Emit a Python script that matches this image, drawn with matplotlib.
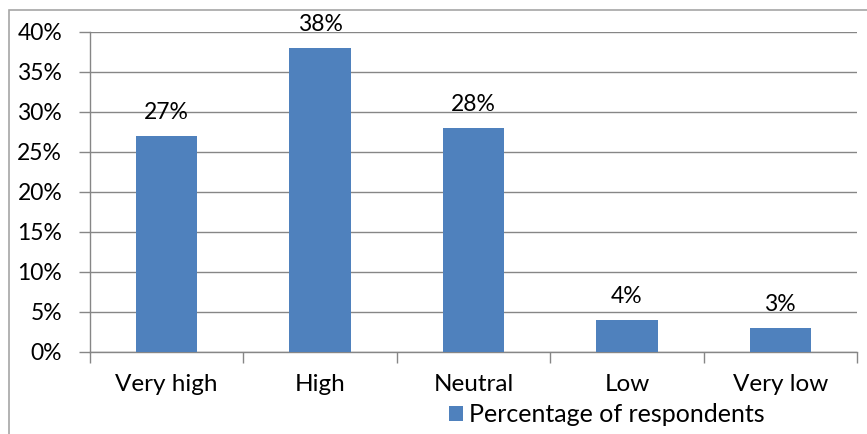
import matplotlib.pyplot as plt
import numpy as np
from matplotlib.patches import Rectangle

categories = ["Very high", "High", "Neutral", "Low", "Very low"]
values = [27, 38, 28, 4, 3]
series_name = "Percentage of respondents"

plt.rcParams["font.family"] = ["Lato", "DejaVu Sans"]
FS = 16.5

fig = plt.figure(figsize=(8.67, 4.34), dpi=100)
ax = fig.add_axes([90 / 867, 1 - 352 / 434, 767 / 867, 320 / 434])

# outer chart-area frame (only left/top visible in the reference)
fig.patches.append(Rectangle((9 / 867, -0.1), 1.2, 1 - 10 / 434 + 0.1,
                             transform=fig.transFigure, fill=False,
                             edgecolor="#a6a6a6", linewidth=1.2))

x = np.arange(len(categories))
bars = ax.bar(x, values, width=0.4, color="#4f81bd", zorder=3, label=series_name)
for xi, v in zip(x, values):
    ax.text(xi, v + 1.6, f"{v}%", ha="center", va="bottom", fontsize=FS, color="black")

ax.set_xlim(-0.5, len(categories) - 0.5)
ax.set_ylim(0, 40)
ax.set_yticks(np.arange(0, 41, 5))
ax.set_yticklabels([f"{t}%" for t in range(0, 41, 5)], fontsize=FS)
ax.yaxis.grid(True, color="#868686", linewidth=1, zorder=0)

ax.set_xticks(x)
ax.set_xticklabels(categories, fontsize=17.5)
ax.set_xticks(np.arange(-0.5, len(categories)), minor=True)
ax.tick_params(axis="x", which="major", length=0, pad=16)
ax.tick_params(axis="x", which="minor", length=8, color="#868686", width=1)
ax.tick_params(axis="y", length=8, color="#868686", width=1, pad=12)

for side in ["top", "right"]:
    ax.spines[side].set_visible(False)
for side in ["left", "bottom"]:
    ax.spines[side].set_color("#868686")
    ax.spines[side].set_linewidth(1)

fig.legend(handles=[bars], labels=[series_name], loc="center",
           bbox_to_anchor=(607 / 867, 1 - 415 / 434), frameon=False,
           fontsize=18, handlelength=0.55, handleheight=0.55, handletextpad=0.25)

fig.savefig("out.png", dpi=100)
